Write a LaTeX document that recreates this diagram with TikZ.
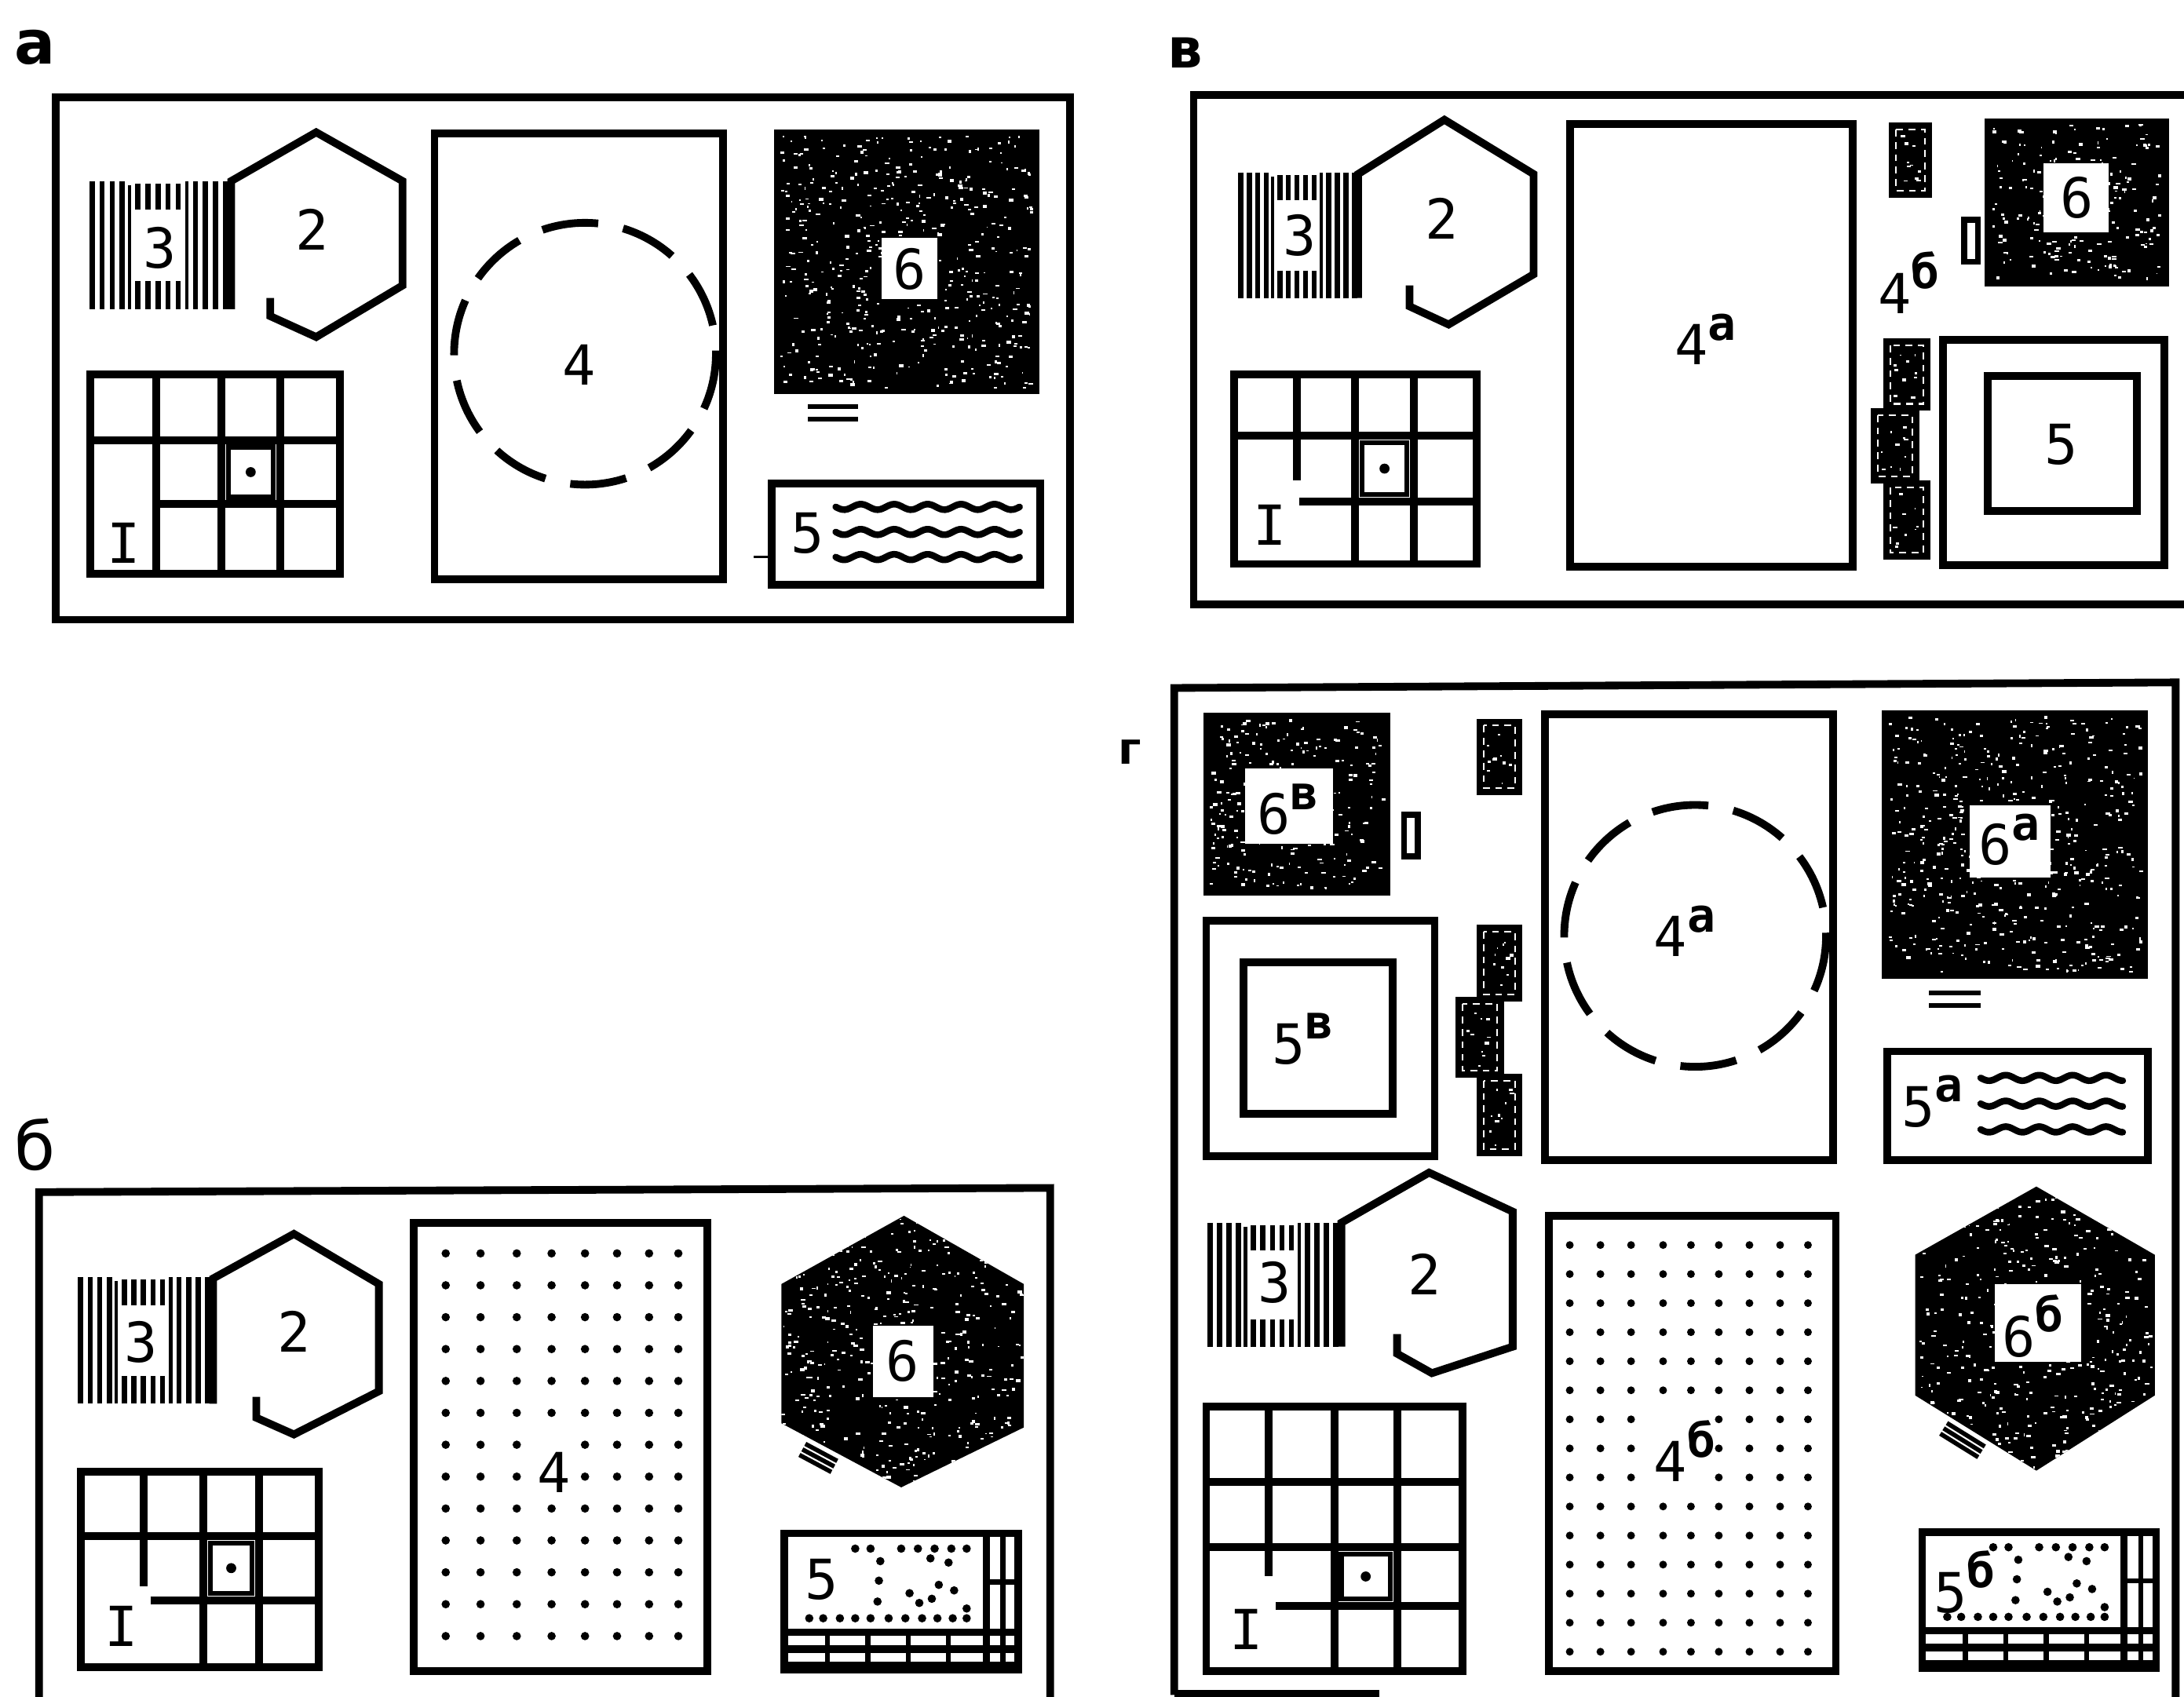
\documentclass[tikz,border=0pt]{standalone}
\usepackage{fontspec}
\newfontfamily\numf{DejaVu Sans Mono}
\newfontfamily\panf{DejaVu Sans}
\tikzset{
  ln/.style={line width=2.8pt},
  thinln/.style={line width=1.2pt},
  stripe/.style={line width=1.9pt},
  num/.style={font=\numf\fontsize{20pt}{20pt}\selectfont, inner sep=0pt},
  pan/.style={font=\panf\bfseries\fontsize{22pt}{22pt}\selectfont, inner sep=0pt},
  wave/.style={line width=2.4pt, line cap=round},
  circdash/.style={line width=2.8pt, dash pattern=on 20.5pt off 9.2pt},
}
\newcommand\supr[1]{\raisebox{9pt}{\bfseries\fontsize{17pt}{17pt}\selectfont #1}}
\newcommand\speck[5]{%
  \foreach \k in {1,...,#5}{%
    \pgfmathsetmacro\spx{(#1)+rnd*((#3)-(#1))}%
    \pgfmathsetmacro\spy{(#2)+rnd*((#4)-(#2))}%
    \pgfmathsetmacro\spw{0.8+rnd*2.6}%
    \pgfmathsetmacro\sph{0.8+rnd*1.4}%
    \fill[white] (\spx,\spy) rectangle ++(\spw,\sph);
  }}
\newcommand\darkbox[5]{%
  \fill[black] (#1,#2) rectangle (#3,#4);
  \speck{#1+4}{#2+4}{#3-6}{#4-5}{#5}}
\newcommand\piece[4]{%
  \fill[black] (#1,#2) rectangle (#3,#4);
  \draw[white, line width=0.6pt, dash pattern=on 2.5pt off 2pt] ({#1+5},{#2+5}) rectangle ({#3-5},{#4-5});
  \speck{#1+7}{#2+7}{#3-9}{#4-8}{10}}
\newcommand\stripes[4]{%
  \begin{scope}[shift={(#1,#2)}, xscale={#3-#1}, yscale={#4-#2}]
    \foreach \sv in {0.03,0.1,0.17,0.24,0.75,0.82,0.89,0.96} {\draw[stripe] (\sv,0) -- (\sv,1);}
    \draw[thinln] (0.29,0.03) -- (0.29,1) (0.69,0) -- (0.69,1);
    \foreach \sv in {0.35,0.42,0.49,0.56,0.63} {\draw[stripe] (\sv,0.02) -- (\sv,0.22); \draw[stripe] (\sv,0.78) -- (\sv,1);}
  \end{scope}}
\newcommand\dotsq[4]{%
  \draw[line width=1.8pt] ({#1+5},{#2+5}) rectangle ({#3-5},{#4-5});
  \fill ({(#1+#3)/2},{(#2+#4)/2}) circle[radius=3.6];}
\newcommand\waves[4]{%
  \foreach \q in {0,1,2}{%
    \draw[wave] plot[domain=0:#2-#1, samples=80] ({#1+\x}, {#3+\q*#4+2*sin(\x/24*360)});}}
\newcommand\hexmarks[5]{%
  \foreach \o in {5,9.5,14}{%
    \draw[line width=1.6pt] ({#1-\o*#4-#5/2*#3},{#2+\o*#3-#5/2*#4}) -- ({#1-\o*#4+#5/2*#3},{#2+\o*#3+#5/2*#4});}}
\newcommand\fiveb[2]{%
  \begin{scope}[shift={(#1,#2)}]
    \draw[ln] (0,0) rectangle (168,98);
    \draw[line width=2.5pt] (0,71) -- (168,71);
    \draw[line width=2.8pt] (0,83) -- (168,83);
    \draw[line width=2.4pt] (0,94.5) -- (168,94.5);
    \foreach \vx in {31,60,89,118} {\draw[line width=1.8pt] (\vx,71) -- (\vx,98);}
    \draw[line width=2.5pt] (145,0) -- (145,98);
    \draw[line width=1.8pt] (157,0) -- (157,98);
    \draw[line width=1.8pt] (145,35) -- (168,35);
    \foreach \dx/\dy in {51/11,62/11,84/11,96/11,108/11,120/11,131/11,
      18/61,28/61,40/61,51/61,62/61,75/61,87/61,99/61,110/61,121/61,131/61,
      69/20,68/34,67/49,90/43,97/50,106/47,111/37,122/41,118/21,105/18,131/54}
      {\fill (\dx,\dy) circle[radius=3];}
  \end{scope}}
\begin{document}
\begin{tikzpicture}[x=0.1774mm, y=-0.1774mm]
\useasboundingbox (0,0) rectangle (1568,1218);
\fill[white] (0,0) rectangle (1568,1218);
\pgfmathsetseed{11}

% ---------------- panel a
\node[pan] (La) at (25,34) {а};
\draw[ln] (40,70) rectangle (768,445);
\stripes{63}{130}{166}{222}
\draw[ln] (194,214) -- (194,227) -- (227,242) -- (289,205) -- (289,130) -- (227,95) -- (166,130) -- (166,222);
\node[num] (a3) at (115,178) {3};
\node[num] (a2) at (224,165) {2};
\draw[ln] (65,269) rectangle (244,412);
\draw[ln] (112,269) -- (112,412) (159,269) -- (159,412) (201,269) -- (201,412)
  (65,316) -- (244,316) (112,362) -- (244,362);
\dotsq{159}{316}{201}{362}
\node[num] (aI) at (89,390) {I};
\draw[ln] (312,96) rectangle (519,416);
\draw[circdash] (420,254) circle[radius=94];
\node[num] (a4) at (416,262) {4};
\darkbox{556}{93}{746}{283}{480}
\fill[white] (633,171) rectangle (673,215);
\node[num] (a6) at (653,193) {6};
\draw[line width=1.8pt] (580,292) -- (616,292) (580,301) -- (616,301);
\draw[ln] (554,347) rectangle (747,420);
\draw[line width=0.8pt] (541,400) -- (554,400);
\node[num] (a5) at (580,383) {5};
\waves{600}{732}{364}{18}

% ---------------- panel v
\node[pan, font=\panf\bfseries\fontsize{20pt}{20pt}\selectfont] (Lv) at (851,38) {в};
\draw[ln] (1600,68) -- (857,68) -- (857,434) -- (1600,434);
\stripes{888}{124}{976}{214}
\draw[ln] (1012,205) -- (1012,220) -- (1040,233) -- (1101,197) -- (1101,125) -- (1037,86) -- (975,125) -- (975,214);
\node[num] (v3) at (933,169) {3};
\node[num] (v2) at (1035,157) {2};
\draw[ln] (886,269) rectangle (1060,405);
\draw[ln] (973,269) -- (973,405) (1015,269) -- (1015,405) (886,313) -- (1060,313)
  (931,269) -- (931,345) (933,360) -- (1060,360);
\dotsq{973}{313}{1015}{360}
\node[num] (vI) at (912,377) {I};
\draw[ln] (1127,89) rectangle (1330,407);
\node[num, anchor=base west] (v4a) at (1202,262) {4\supr{а}};
\piece{1356}{88}{1387}{142}
\piece{1352}{243}{1386}{295}
\piece{1343}{293}{1378}{347}
\piece{1352}{345}{1386}{402}
\node[num, anchor=base west] (v4b) at (1348,225) {4\supr{б}};
\draw[line width=2.2pt] (1410,158) rectangle (1420,188);
\darkbox{1425}{85}{1557}{206}{210}
\fill[white] (1467,117) rectangle (1514,167);
\node[num] (v6) at (1491,142) {6};
\draw[ln] (1395,244) rectangle (1554,406);
\draw[ln] (1427,270) rectangle (1534,367);
\node[num] (v5) at (1480,319) {5};

% ---------------- panel b
\node[pan, font=\panf\fontsize{24pt}{24pt}\selectfont] (Lb) at (25,822) {б};
\draw[ln] (28,1230) -- (28,856) -- (754,853) -- (754,1230);
\stripes{55}{917}{153}{1008}
\draw[ln] (184,1003) -- (184,1018) -- (211,1030) -- (272,999) -- (272,922) -- (211,886) -- (153,918) -- (153,1008);
\node[num] (b3) at (101,964) {3};
\node[num] (b2) at (211,956) {2};
\draw[ln] (58,1057) rectangle (229,1197);
\draw[ln] (146,1057) -- (146,1197) (186,1057) -- (186,1197) (58,1103) -- (229,1103)
  (103,1057) -- (103,1139) (108,1149) -- (229,1149);
\dotsq{146}{1103}{186}{1149}
\node[num] (bI) at (87,1168) {I};
\draw[ln] (297,878) rectangle (508,1200);
\foreach \xx [count=\i] in {320,345,371,396,420,443,466,487}{
  \foreach \j in {0,...,12}{
    \pgfmathtruncatemacro\sk{(\i==4)&&(\j==6||\j==7)}
    \ifnum\sk=0 \fill (\xx,{900+22.9*\j}) circle[radius=3];\fi
  }}
\node[num] (b4) at (398,1057) {4};
\begin{scope}
  \clip (649,873) -- (735,922) -- (735,1025) -- (647,1068) -- (561,1022) -- (561,922) -- cycle;
  \fill[black] (555,870) rectangle (740,1070);
  \speck{560}{874}{734}{1064}{440}
\end{scope}
\fill[white] (627,952) rectangle (670,1003);
\node[num] (b6) at (648,977) {6};
\hexmarks{592}{1038.5}{0.882}{0.472}{26}
\fiveb{563}{1101}
\node[num] (b5) at (590,1134) {5};

% ---------------- panel g
\node[pan, font=\panf\bfseries\fontsize{16pt}{16pt}\selectfont] (Lg) at (811,540) {г};
\draw[ln] (843,1217) -- (843,494) -- (1562,490) -- (1562,1230);
\draw[ln] (843,1216) -- (990,1216);
\darkbox{864}{512}{998}{643}{240}
\fill[white] (894,552) rectangle (957,606);
\node[num, anchor=base west] (g6v) at (902,599) {6\supr{в}};
\draw[line width=2.2pt] (1008,585) rectangle (1018,615);
\draw[ln] (866,661) rectangle (1030,830);
\draw[ln] (893,691) rectangle (1000,800);
\node[num, anchor=base west] (g5v) at (913,764) {5\supr{в}};
\piece{1060}{516}{1093}{571}
\piece{1060}{664}{1093}{719}
\piece{1045}{716}{1080}{774}
\piece{1060}{771}{1093}{830}
\draw[ln] (1109,513) rectangle (1316,833);
\draw[circdash] (1217,672) circle[radius=94];
\node[num, anchor=base west] (g4a) at (1187,687) {4\supr{а}};
\darkbox{1351}{510}{1542}{703}{490}
\fill[white] (1414,578) rectangle (1472,630);
\node[num, anchor=base west] (g6a) at (1420,621) {6\supr{а}};
\draw[line width=1.8pt] (1385,713) -- (1422,713) (1385,722) -- (1422,722);
\draw[ln] (1355,755) rectangle (1542,833);
\node[num, anchor=base west] (g5a) at (1365,809) {5\supr{а}};
\waves{1422}{1524}{774}{18.5}
\stripes{866}{878}{963}{967}
\draw[ln] (1003,958) -- (1003,972) -- (1028,986) -- (1086,967) -- (1086,870) -- (1026,842) -- (963,878) -- (963,967);
\node[num] (g3) at (915,921) {3};
\node[num] (g2) at (1023,915) {2};
\draw[ln] (866,1010) rectangle (1050,1200);
\draw[ln] (958,1010) -- (958,1200) (1003,1010) -- (1003,1200) (866,1064) -- (1050,1064)
  (866,1111) -- (1050,1111) (911,1010) -- (911,1132) (916,1153) -- (1050,1153);
\dotsq{958}{1111}{1003}{1153}
\node[num] (gI) at (895,1170) {I};
\draw[ln] (1112,873) rectangle (1318,1200);
\foreach \xx [count=\i] in {1127,1149,1171,1194,1214,1234,1256,1278,1298}{
  \foreach \j in {0,...,14}{
    \pgfmathtruncatemacro\sk{(\i==4||\i==5)&&(\j>=6&&\j<=8)}
    \ifnum\sk=0 \fill (\xx,{894+20.86*\j}) circle[radius=2.8];\fi
  }}
\node[num, anchor=base west] (g4b) at (1187,1064) {4\supr{б}};
\begin{scope}
  \clip (1462,852) -- (1547,901) -- (1547,1002) -- (1462,1056) -- (1375,1002) -- (1375,901) -- cycle;
  \fill[black] (1370,848) rectangle (1552,1060);
  \speck{1377}{854}{1545}{1054}{440}
\end{scope}
\fill[white] (1432,922) rectangle (1494,978);
\node[num, anchor=base west] (g6b) at (1437,974) {6\supr{б}};
\hexmarks{1414}{1026}{0.85}{0.527}{32}
\fiveb{1380}{1100}
\node[num, anchor=base west] (g5b) at (1388,1158) {5\supr{б}};
\end{tikzpicture}
\end{document}
